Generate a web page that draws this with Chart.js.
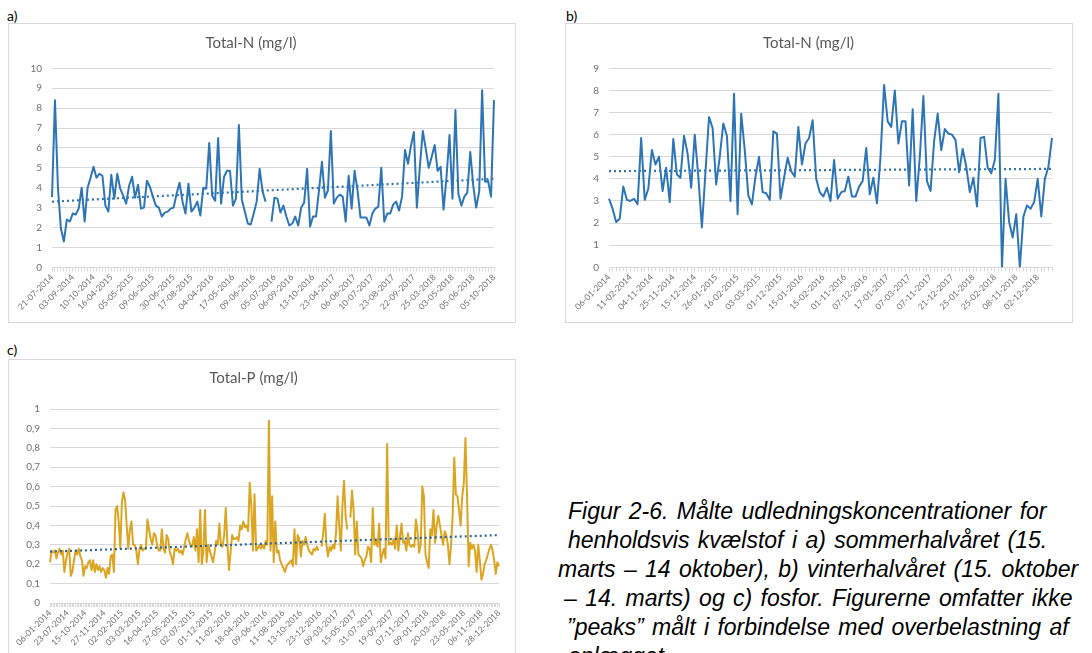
<!DOCTYPE html>
<html>
<head>
<meta charset="utf-8">
<script src="https://cdn.jsdelivr.net/npm/chart.js@4.4.1/dist/chart.umd.min.js"></script>
<style>
  html, body { margin: 0; padding: 0; background: #fff; width: 1092px; height: 653px; overflow: hidden; }
  .frame { position: absolute; border: 1px solid #d9d9d9; box-sizing: border-box; }
  .tag { position: absolute; font-family: Lato, "Open Sans", sans-serif; font-size: 14px; color: #000; line-height: 16px; }
  canvas { position: absolute; display: block; }
  .caption { position: absolute; left: 558px; top: 497px; font-family: "Liberation Sans", Arial, sans-serif;
             font-style: italic; font-size: 23px; line-height: 28.9px; word-spacing: 2px; white-space: nowrap; color: #000; }
  .caption span { display: block; }
</style>
</head>
<body>
<div class="tag" style="left:7px;top:8px;">a)</div>
<div class="tag" style="left:566px;top:8px;">b)</div>
<div class="tag" style="left:7px;top:342px;">c)</div>

<div class="frame" style="left:8px;top:23px;width:508px;height:300px;"></div>
<div class="frame" style="left:565px;top:23px;width:508px;height:300px;"></div>
<div class="frame" style="left:8px;top:359px;width:508px;height:300px;"></div>

<canvas id="chartA" width="507" height="300" style="left:8px;top:23px;"></canvas>
<canvas id="chartB" width="507" height="300" style="left:565px;top:23px;"></canvas>
<canvas id="chartC" width="507" height="294" style="left:8px;top:359px;"></canvas>

<div class="caption">
  <span style="margin-left:10px">Figur 2-6. Målte udledningskoncentrationer for</span>
  <span style="margin-left:10px">henholdsvis kvælstof i a) sommerhalvåret (15.</span>
  <span style="margin-left:0px">marts – 14 oktober), b) vinterhalvåret (15. oktober</span>
  <span style="margin-left:6px">– 14. marts) og c) fosfor. Figurerne omfatter ikke</span>
  <span style="margin-left:9px">”peaks” målt i forbindelse med overbelastning af</span>
  <span style="margin-left:10px">anlægget.</span>
</div>

<script>
// a) Total-N, summer half-year (15 March – 14 October)
const datesSummer = ['21-07-2014','03-09-2014','10-10-2014','16-04-2015','05-05-2015','09-06-2015',
  '30-06-2015','17-08-2015','04-04-2016','17-05-2016','09-06-2016','05-07-2016','06-09-2016',
  '13-10-2016','23-04-2017','06-06-2017','10-07-2017','23-08-2017','22-09-2017','25-03-2018',
  '03-05-2018','05-06-2018','05-10-2018'];
const totalNSummer = [
  3.53,8.4,4.0,1.95,1.3,2.4,2.3,2.7,2.65,2.95,4.0,2.3,4.0,4.5,5.05,4.5,4.7,4.6,3.1,2.8,
  4.65,3.45,4.7,3.95,3.6,3.2,4.1,4.55,3.5,4.15,2.95,3.0,4.35,4.05,3.55,3.1,3.0,2.55,2.75,2.8,
  2.95,3.0,3.7,4.25,3.3,2.7,4.2,2.8,3.0,3.3,2.6,4.0,3.95,6.25,3.6,3.35,6.5,3.2,4.55,4.85,
  4.85,3.1,3.45,7.15,3.4,2.8,2.2,2.15,2.7,3.3,4.95,3.8,3.3,
  null,
  2.3,3.5,3.45,2.75,3.1,2.55,2.1,2.2,2.55,2.1,3.0,3.25,4.95,2.05,2.55,2.55,3.85,5.3,3.5,3.85,
  6.85,3.2,3.5,3.65,3.55,2.3,4.6,2.95,4.85,3.85,2.5,2.5,2.5,2.1,2.7,2.95,3.05,5.0,2.3,2.7,
  2.7,3.15,3.3,2.85,3.55,5.9,5.2,6.1,6.8,3.0,5.05,6.85,5.95,5.0,5.55,6.15,4.85,5.05,2.9,4.55,
  6.65,3.45,7.9,3.7,3.1,3.55,3.75,5.8,4.1,3.0,3.8,8.9,4.3,4.35,3.55,8.4
];
const trendSummer = [3.3, 4.45];

// b) Total-N, winter half-year (15 October – 14 March)
const datesWinter = ['06-01-2014','11-02-2014','04-11-2014','25-11-2014','15-12-2014','26-01-2015',
  '16-02-2015','03-03-2015','01-12-2015','15-01-2016','15-02-2016','01-11-2016','07-12-2016',
  '17-01-2017','07-03-2017','07-11-2017','21-12-2017','25-01-2018','25-02-2018','08-11-2018',
  '02-12-2018'];
const totalNWinter = [
  3.1,2.65,2.05,2.2,3.65,3.05,3.0,3.1,2.85,5.85,3.05,3.55,5.3,4.65,5.0,3.45,4.5,2.95,5.8,4.2,
  4.05,5.95,5.15,3.6,6.0,4.1,1.8,4.3,6.8,6.3,3.75,5.0,6.5,5.95,3.0,7.85,2.4,6.95,5.3,3.25,
  2.85,4.1,5.0,3.4,3.35,3.05,6.15,6.05,3.1,4.05,4.95,4.35,4.1,6.35,4.65,5.6,5.85,6.65,4.0,3.4,
  3.2,3.6,3.0,4.85,3.1,3.4,3.45,4.1,3.2,3.2,3.65,3.9,5.4,3.3,4.05,2.9,5.0,8.25,6.6,6.35,
  8.0,5.6,6.6,6.6,3.7,7.15,3.0,5.0,7.75,3.9,3.45,5.7,6.95,5.3,6.25,6.05,6.0,5.75,4.3,5.35,
  4.55,3.4,4.05,2.75,5.85,5.9,4.5,4.25,4.85,7.85,0.0,4.0,2.05,1.35,2.4,0.0,2.3,2.8,2.65,2.95,
  4.0,2.3,4.0,4.55,5.85
];
const trendWinter = [4.35, 4.45];

// c) Total-P
const datesP = ['06-01-2014','23-07-2014','15-10-2014','27-11-2014','02-02-2015','03-03-2015',
  '16-04-2015','27-05-2015','02-07-2015','01-12-2015','11-02-2016','18-04-2016','09-06-2016',
  '11-08-2016','13-10-2016','23-12-2016','09-03-2017','15-05-2017','31-07-2017','19-09-2017',
  '07-11-2017','09-01-2018','20-03-2018','23-05-2018','06-11-2018','28-12-2018'];
const totalP = [
  0.21,0.27,0.26,0.27,0.23,0.26,0.28,0.25,0.27,0.16,0.22,0.26,0.28,0.14,0.16,0.22,0.27,0.25,0.28,0.24,
  0.22,0.14,0.19,0.18,0.21,0.22,0.17,0.22,0.16,0.20,0.17,0.19,0.16,0.18,0.17,0.13,0.18,0.15,0.24,0.25,
  0.16,
  0.48,0.50,0.42,0.28,0.52,0.57,0.53,0.40,0.28,0.38,0.42,0.30,0.30,0.27,0.20,0.28,0.30,0.27,0.28,0.28,
  0.43,0.38,0.33,0.30,0.36,0.35,0.30,0.27,0.27,0.38,0.28,0.26,0.35,0.33,0.26,0.24,0.20,0.28,0.27,0.28,
  0.26,0.27,0.25,0.29,0.33,0.36,0.32,0.30,0.29,0.34,0.27,0.38,0.21,0.48,0.20,0.27,0.48,0.21,0.30,0.27,
  0.24,0.21,0.26,0.32,0.30,0.41,0.30,0.29,0.35,0.49,0.31,0.17,0.26,0.35,0.33,0.33,0.34,0.32,0.40,0.38,
  0.42,0.39,0.40,0.37,0.62,0.50,0.27,0.56,0.27,0.28,0.30,0.28,0.30,0.28,0.32,0.30,
  0.94,0.27,0.55,0.21,0.42,0.26,0.27,0.22,0.20,0.18,0.16,0.19,0.20,0.21,0.22,0.19,0.38,0.20,0.35,0.33,
  0.24,0.32,0.30,0.34,0.30,0.27,0.26,0.25,0.28,0.27,0.29,0.27,
  null,
  0.29,0.36,0.46,0.30,0.24,0.29,0.27,0.30,0.28,0.36,0.55,0.40,0.27,0.50,0.63,0.45,0.38,
  null,
  0.44,0.58,0.48,0.25,0.42,0.25,0.24,0.23,0.19,0.22,0.24,0.29,0.28,0.21,0.49,0.30,0.32,0.29,0.41,0.21,
  0.25,0.28,0.23,0.82,0.30,0.31,0.30,0.33,0.28,0.40,0.27,0.34,0.41,0.31,0.32,0.27,0.36,0.30,0.29,0.30,
  0.29,0.43,0.37,0.26,0.30,0.60,0.55,0.25,0.21,0.18,0.38,0.35,0.48,0.31,0.40,0.45,0.40,0.35,0.30,0.37,
  0.35,0.30,0.20,0.30,0.45,0.75,0.56,0.55,0.48,0.40,0.55,0.62,0.85,0.55,0.19,0.31,0.28,0.30,0.27,0.16,
  0.30,0.22,0.12,0.15,0.20,0.22,0.25,0.28,0.30,0.27,0.22,0.15,0.21,0.19
];
const trendP = [0.265, 0.35];

const FONT = 'Lato, "Open Sans", sans-serif';
const TEXT_GREY = '#6f6f6f';
const GRID_GREY = '#d9d9d9';

function buildPanel(id, cfg) {
  const n = cfg.values.length;
  // one category per sample; only every few categories carries a date
  const names = new Array(n).fill('');
  cfg.dates.forEach((d, i) => {
    const k = cfg.step ? i * cfg.step : Math.round(i * (n - 1) / (cfg.dates.length - 1));
    names[k] = d;
  });
  const trend = new Array(n).fill(null);
  trend[0] = cfg.trend[0];
  trend[n - 1] = cfg.trend[1];

  return new Chart(document.getElementById(id), {
    type: 'line',
    data: {
      labels: names,
      datasets: [
        { data: trend, borderColor: cfg.trendColor, borderWidth: 2.2, borderDash: [2, 3],
          spanGaps: true, pointRadius: 0, fill: false },
        { data: cfg.values, borderColor: cfg.color, borderWidth: 2, pointRadius: 0,
          spanGaps: false, tension: 0, fill: false, borderJoinStyle: 'round' }
      ]
    },
    options: {
      responsive: false,
      animation: false,
      events: [],
      layout: { padding: { left: 0, right: cfg.padRight, top: 0, bottom: 0 } },
      plugins: {
        legend: { display: false },
        tooltip: { enabled: false },
        title: {
          display: true, text: cfg.title, color: '#595959',
          font: { family: FONT, size: 15, weight: 'normal' },
          padding: { top: cfg.titleTop, bottom: cfg.titleBottom }
        }
      },
      scales: {
        x: {
          type: 'category',
          offset: false,
          grid: { display: true, drawOnChartArea: false, drawTicks: true, tickLength: 4, color: GRID_GREY },
          border: { display: true, color: GRID_GREY },
          ticks: { autoSkip: false, minRotation: 45, maxRotation: 45, padding: 1,
                   color: TEXT_GREY, font: { family: FONT, size: 8.5 } },
          afterFit(s) { s.height = cfg.xHeight; }
        },
        y: {
          min: 0, max: cfg.max,
          ticks: { stepSize: cfg.stepSize, padding: 10, color: TEXT_GREY,
                   font: { family: FONT, size: 10 }, callback: cfg.fmt },
          grid: { color: GRID_GREY, drawTicks: false },
          border: { display: false },
          afterFit(s) { s.width = cfg.yWidth; }
        }
      }
    }
  });
}

const plain = v => String(Math.round(v));
const commaDecimal = v => {
  if (Math.abs(v) < 1e-9) return '0';
  if (Math.abs(v - 1) < 1e-9) return '1';
  return v.toFixed(1).replace('.', ',');
};

buildPanel('chartA', {
  title: 'Total-N (mg/l)', values: totalNSummer, dates: datesSummer, step: null,
  trend: trendSummer, color: '#2e75b6', trendColor: '#2e75b6',
  max: 10, stepSize: 1, fmt: plain,
  yWidth: 44, padRight: 21, xHeight: 55.7, titleTop: 11.3, titleBottom: 16
});

buildPanel('chartB', {
  title: 'Total-N (mg/l)', values: totalNWinter, dates: datesWinter, step: 6,
  trend: trendWinter, color: '#2e75b6', trendColor: '#2e75b6',
  max: 9, stepSize: 1, fmt: plain,
  yWidth: 44, padRight: 20, xHeight: 55.7, titleTop: 11.3, titleBottom: 16
});

buildPanel('chartC', {
  title: 'Total-P (mg/l)', values: totalP, dates: datesP, step: null,
  trend: trendP, color: '#dba522', trendColor: '#2e6496',
  max: 1, stepSize: 0.1, fmt: commaDecimal,
  yWidth: 42, padRight: 16, xHeight: 50, titleTop: 10, titleBottom: 22
});
</script>
</body>
</html>
